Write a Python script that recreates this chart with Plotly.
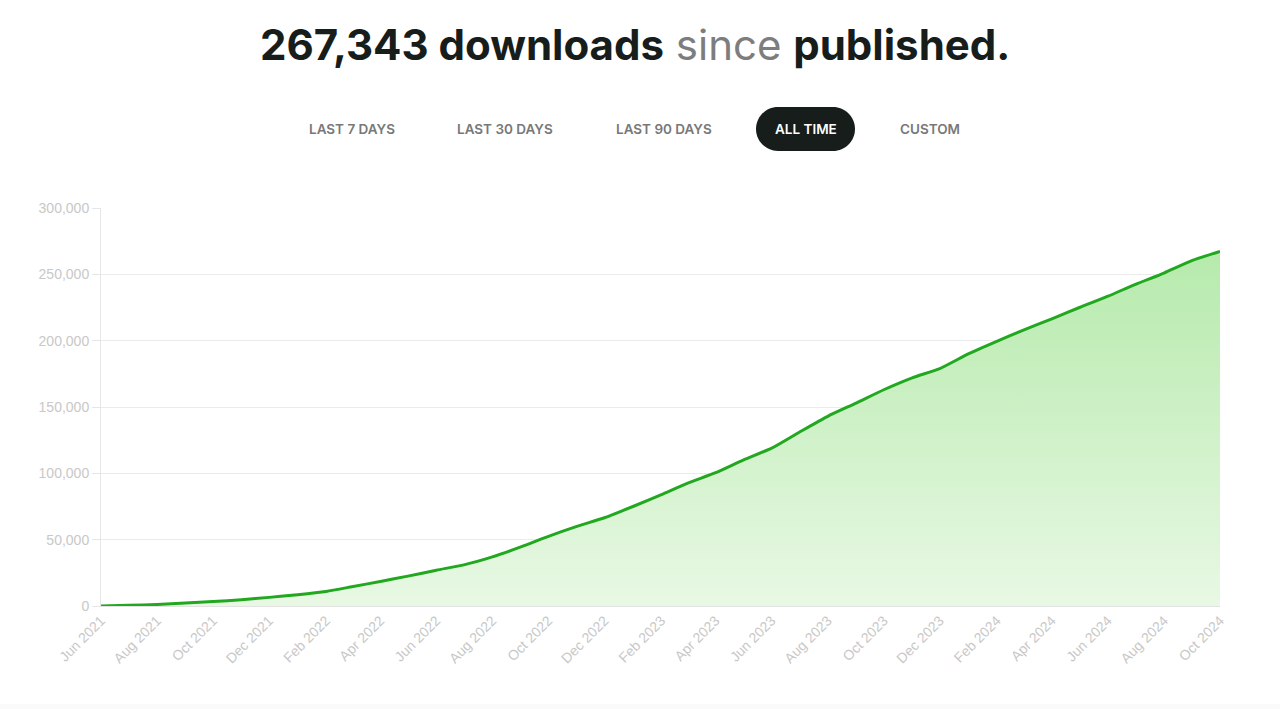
import plotly.graph_objects as go
import pandas as pd

# Cumulative downloads, sampled on the first of each month
months = pd.date_range("2021-06-01", "2024-10-01", freq="MS")
downloads = [
    0, 500, 1200, 2200, 3300, 4800, 6500, 8500, 11000, 14500,
    18500, 22500, 27000, 31000, 37000, 44500, 52500, 60000, 66500, 75000,
    84000, 92500, 100500, 110000, 119000, 131000, 143000, 153000, 163000, 172000,
    179000, 190000, 199500, 208000, 216500, 225000, 233500, 242500, 251000, 260500,
    267343,
]
range_buttons = ["LAST 7 DAYS", "LAST 30 DAYS", "LAST 90 DAYS", "ALL TIME", "CUSTOM"]
active_button = "ALL TIME"
total = downloads[-1]

W, H = 1280, 709
L, R, T, B = 101, 60, 208, 103
PW, PH = W - L - R, H - T - B


def px(x):
    return (x - L) / PW


def py(y):
    return (H - B - y) / PH


fig = go.Figure()
fig.add_trace(go.Scatter(
    x=months, y=downloads,
    mode="lines",
    line=dict(color="#21a81f", width=3, shape="spline", smoothing=0.6),
    fill="tozeroy",
    fillgradient=dict(
        type="vertical",
        colorscale=[[0, "#e8f8e4"], [1, "#b6eaac"]],
    ),
    hoverinfo="x+y",
    showlegend=False,
))

annotations = [dict(
    text=(f"<b>{total:,} downloads</b> "
          "<span style='color:#7d7d7d'>since</span> <b>published.</b>"),
    x=px(635), y=py(45), xref="paper", yref="paper",
    showarrow=False, xanchor="center", yanchor="middle",
    font=dict(family="Inter", size=42, color="#161d1a"),
)]

button_x = [352, 505, 664, 806, 930]
shapes = []
for label, bx in zip(range_buttons, button_x):
    active = label == active_button
    if active:
        x0, x1, y0, y1, r = 756, 855, 107, 151, 22
        k = 0.5523 * r
        pts = [
            ("M", [(x0 + r, y0)]),
            ("L", [(x1 - r, y0)]),
            ("C", [(x1 - r + k, y0), (x1, y0 + r - k), (x1, y0 + r)]),
            ("C", [(x1, y0 + r + k), (x1 - r + k, y1), (x1 - r, y1)]),
            ("L", [(x0 + r, y1)]),
            ("C", [(x0 + r - k, y1), (x0, y0 + r + k), (x0, y0 + r)]),
            ("C", [(x0, y0 + r - k), (x0 + r - k, y0), (x0 + r, y0)]),
        ]
        path = " ".join(
            cmd + " " + " ".join(f"{px(a):.5f},{py(b):.5f}" for a, b in p)
            for cmd, p in pts
        ) + " Z"
        shapes.append(dict(type="path", path=path, xref="paper", yref="paper",
                           fillcolor="#161d1a", line=dict(width=0), layer="below"))
    annotations.append(dict(
        text=label, x=px(bx), y=py(129), xref="paper", yref="paper",
        showarrow=False, xanchor="center", yanchor="middle",
        font=dict(family="Inter", size=13.5, weight=600,
                  color="#ffffff" if active else "#787878"),
    ))

# faint footer band
shapes.append(dict(type="rect", xref="paper", yref="paper",
                   x0=px(0), x1=px(W), y0=py(H), y1=py(704),
                   fillcolor="#fafafa", line=dict(width=0), layer="below"))

fig.update_layout(
    width=W, height=H,
    margin=dict(l=L, r=R, t=T, b=B),
    paper_bgcolor="#ffffff", plot_bgcolor="#ffffff",
    font=dict(family="Liberation Sans, Arial, sans-serif", color="#c4c4c4"),
    annotations=annotations,
    shapes=shapes,
    xaxis=dict(
        range=[months[0], months[-1]],
        tick0="2021-06-01", dtick="M2", tickformat="%b %Y",
        tickangle=-45, tickfont=dict(size=14, color="#c8c8c8"),
        showgrid=False, zeroline=False,
        showline=True, linecolor="#e2e2e2", linewidth=1,
        ticks="", fixedrange=True,
    ),
    yaxis=dict(
        range=[0, 300000], dtick=50000, tickformat=",",
        tickfont=dict(size=14, color="#c8c8c8"),
        showgrid=True, gridcolor="#ebebeb", gridwidth=1,
        zeroline=False,
        showline=True, linecolor="#e6e6e6", linewidth=1,
        ticks="outside", ticklen=8, tickcolor="#e6e6e6",
        fixedrange=True,
    ),
)

fig.write_html("out.html")
